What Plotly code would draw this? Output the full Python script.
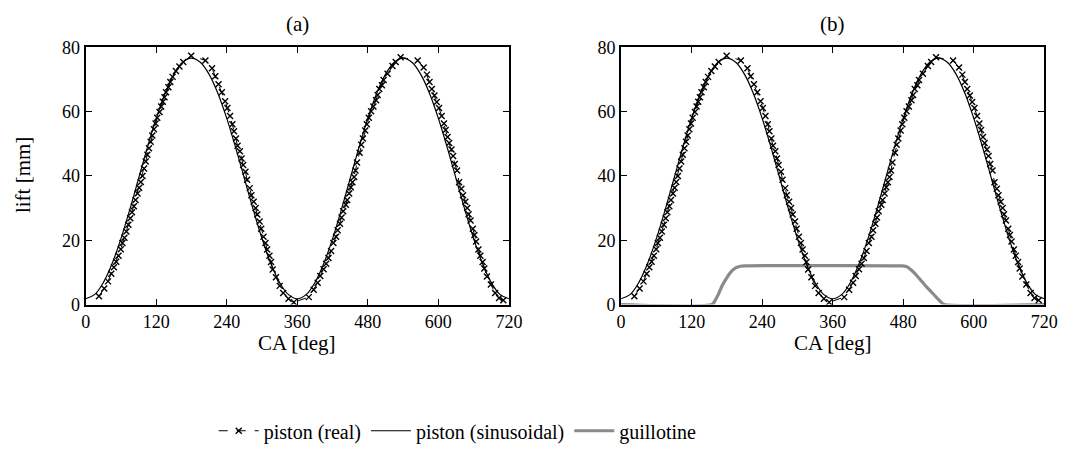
import plotly.graph_objects as go

# ---------------- data ----------------
# piston (sinusoidal): crank angle [deg] and lift [mm]
sin_ca = [0, 15, 30, 45, 60, 75, 90, 105, 120, 135, 150, 165, 180,
          195, 210, 225, 240, 255, 270, 285, 300, 315, 330, 345, 360,
          375, 390, 405, 420, 435, 450, 465, 480, 495, 510, 525, 540,
          555, 570, 585, 600, 615, 630, 645, 660, 675, 690, 705, 720]
sin_lift = [1.8, 3.07, 6.81, 12.75, 20.5, 29.52, 39.2, 48.88, 57.9, 65.65, 71.59, 75.33, 76.6,
            75.33, 71.59, 65.65, 57.9, 48.88, 39.2, 29.52, 20.5, 12.75, 6.81, 3.07, 1.8,
            3.07, 6.81, 12.75, 20.5, 29.52, 39.2, 48.88, 57.9, 65.65, 71.59, 75.33, 76.6,
            75.33, 71.59, 65.65, 57.9, 48.88, 39.2, 29.52, 20.5, 12.75, 6.81, 3.07, 1.8]

# piston (real): measured points
real_ca = [22.5, 31.5, 38.0, 43.5, 48.0, 51.9, 55.8, 59.7, 62.5, 65.9, 69.2, 72.6, 75.9, 78.7,
           82.0, 84.8, 88.2, 91.0, 93.8, 96.6, 99.3, 102.1, 104.9, 107.7, 110.5, 113.3, 116.1,
           118.9, 121.7, 125.6, 128.4, 131.2, 134.0, 136.7, 140.7, 144.0, 147.9, 153.5, 159.5,
           166.0, 179.5,
           203.7, 214.9, 220.5, 226.0, 231.6, 237.2, 241.1, 245.6, 249.5, 252.3, 255.6, 258.4,
           262.3, 265.1, 267.9, 271.8, 274.6, 279.1, 281.9, 285.8, 289.1, 291.9, 295.8, 298.6,
           302.5, 305.9, 308.7, 312.6, 315.3, 318.1, 323.7, 330.0, 336.0, 345.0, 354.0,
           379.5, 387.9, 394.6, 399.1, 404.7, 409.1, 413.0, 417.5, 421.4, 425.9, 428.7, 432.6,
           435.3, 438.1, 442.6, 444.8, 448.2, 451.0, 453.8, 456.6, 459.0, 461.6, 466.0, 468.8,
           471.6, 475.5, 478.3, 481.7, 485.6, 489.5, 494.0, 496.7, 499.5, 504.0, 506.8, 513.5,
           521.9, 527.4, 535.8,
           564.8, 574.9, 580.5, 584.9, 588.8, 593.3, 597.2, 601.1, 605.6, 609.5, 612.3, 615.6,
           618.4, 622.3, 625.1, 627.9, 631.8, 635.2, 639.1, 641.9, 645.8, 649.1, 651.4, 654.7,
           658.6, 661.4, 664.2, 668.1, 671.4, 675.3, 678.1, 682.6, 689.3, 696.6, 703.3, 710.5]
real_lift = [2.6, 5.0, 7.2, 9.6, 11.6, 13.3, 15.2, 17.2, 19.1, 20.8, 22.7, 24.8, 26.8, 28.7,
             30.6, 32.5, 34.5, 36.3, 38.1, 40.0, 42.3, 44.5, 46.6, 48.6, 50.6, 52.6, 54.5,
             56.3, 58.1, 59.9, 61.6, 63.1, 64.5, 66.0, 67.6, 69.2, 70.8, 72.6, 74.0,
             75.4, 77.4,
             75.9, 73.5, 71.0, 68.5, 66.0, 63.2, 61.1, 58.6, 56.1, 53.9, 51.6, 49.4,
             47.7, 45.4, 43.4, 41.3, 38.8, 36.2, 34.0, 32.0, 30.0, 28.0, 25.8, 23.6,
             21.1, 19.1, 17.1, 15.2, 13.2, 10.9, 8.5, 5.8, 3.6, 1.8, 0.7,
             2.3, 4.6, 6.75, 8.9, 11.0, 12.7, 14.5, 16.65, 19.1, 21.1, 23.1, 25.1,
             27.1, 29.0, 31.0, 32.5, 34.5, 36.5, 38.0, 39.65, 41.7, 44.2, 47.2, 49.7,
             51.6, 54.1, 56.1, 58.1, 60.1, 61.6, 63.5, 65.2, 67.0, 68.2, 69.8, 71.8,
             74.2, 75.4, 76.9,
             75.9, 73.75, 71.5, 69.2, 67.0, 65.0, 63.0, 61.1, 58.6, 56.3, 54.3, 52.1,
             50.2, 48.2, 46.2, 43.7, 41.7, 38.0, 36.0, 34.0, 32.0, 30.0, 28.05, 26.1,
             23.6, 21.6, 19.6, 17.1, 15.2, 13.2, 11.2, 8.7, 6.2, 3.6, 2.0, 1.3]

# guillotine lift
guil_ca = [0, 155, 160, 165, 172, 180, 188, 195, 203, 210, 478, 485, 492, 500, 510,
           520, 530, 538, 544, 550, 720]
guil_lift = [0, 0, 1.3, 3.0, 5.9, 8.4, 10.4, 11.4, 11.9, 12.0, 12.0, 11.8, 11.0, 9.6, 7.5,
             5.4, 3.5, 1.9, 0.8, 0, 0]

x_ticks = [0, 120, 240, 360, 480, 600, 720]
y_ticks = [0, 20, 40, 60, 80]
panel_titles = ["(a)", "(b)"]

FONT = "Times New Roman, Tinos, Liberation Serif, serif"
W, H = 1078, 457

fig = go.Figure()

real_style = dict(mode="lines+markers", name="piston (real)",
                  line=dict(color="black", width=1, dash="dash"),
                  marker=dict(symbol="x-thin", size=6, color="black",
                              line=dict(width=1.4, color="black")))
sin_style = dict(mode="lines", name="piston (sinusoidal)",
                 line=dict(color="black", width=1.2, shape="spline", smoothing=1.0))
guil_style = dict(mode="lines", name="guillotine",
                  line=dict(color="#8a8a8a", width=3.2, shape="spline", smoothing=0.6))

# panel (a)
fig.add_trace(go.Scatter(x=sin_ca, y=sin_lift, xaxis="x", yaxis="y", legendrank=2,
                         showlegend=True, **sin_style))
fig.add_trace(go.Scatter(x=real_ca, y=real_lift, xaxis="x", yaxis="y", legendrank=1,
                         showlegend=True, **real_style))
# panel (b)
fig.add_trace(go.Scatter(x=guil_ca, y=guil_lift, xaxis="x2", yaxis="y2", legendrank=3,
                         showlegend=True, **guil_style))
fig.add_trace(go.Scatter(x=sin_ca, y=sin_lift, xaxis="x2", yaxis="y2",
                         showlegend=False, **sin_style))
fig.add_trace(go.Scatter(x=real_ca, y=real_lift, xaxis="x2", yaxis="y2",
                         showlegend=False, **real_style))

ydom = [1 - 308 / H, 1 - 39 / H]
xdom_a = [83 / W, 513 / W]
xdom_b = [627 / W, 1057 / W]

axis_common = dict(showline=True, linewidth=2, linecolor="black", mirror="ticks",
                   ticks="inside", ticklen=6, tickwidth=1.2, tickcolor="black",
                   showgrid=False, zeroline=False,
                   tickfont=dict(family=FONT, size=18, color="black"))

fig.update_layout(
    width=W, height=H,
    margin=dict(l=0, r=0, t=0, b=0),
    paper_bgcolor="white", plot_bgcolor="white",
    font=dict(family=FONT, size=18, color="black"),
    xaxis=dict(domain=xdom_a, range=[0, 720], tickvals=x_ticks, anchor="y", **axis_common),
    yaxis=dict(domain=ydom, range=[0, 80], tickvals=y_ticks, anchor="x", **axis_common),
    xaxis2=dict(domain=xdom_b, range=[0, 720], tickvals=x_ticks, anchor="y2", **axis_common),
    yaxis2=dict(domain=ydom, range=[0, 80], tickvals=y_ticks, anchor="x2", **axis_common),
    legend=dict(orientation="h", x=461 / W, xanchor="center", y=1 - 440 / H, yanchor="middle",
                font=dict(family=FONT, size=20, color="black"),
                bgcolor="rgba(0,0,0,0)", itemwidth=40, tracegroupgap=0),
    showlegend=True,
)

ann_font = dict(family=FONT, size=21, color="black")
fig.add_annotation(text=panel_titles[0], x=(xdom_a[0] + xdom_a[1]) / 2, y=1 - 15 / H,
                   xref="paper", yref="paper", showarrow=False, font=ann_font,
                   xanchor="center", yanchor="middle")
fig.add_annotation(text=panel_titles[1], x=(xdom_b[0] + xdom_b[1]) / 2, y=1 - 15 / H,
                   xref="paper", yref="paper", showarrow=False, font=ann_font,
                   xanchor="center", yanchor="middle")
for dom in (xdom_a, xdom_b):
    fig.add_annotation(text="CA [deg]", x=(dom[0] + dom[1]) / 2, y=1 - 334 / H,
                       xref="paper", yref="paper", showarrow=False, font=ann_font,
                       xanchor="center", yanchor="top")
fig.add_annotation(text="lift [mm]", x=20 / W, y=1 - 173 / H, textangle=-90,
                   xref="paper", yref="paper", showarrow=False, font=ann_font,
                   xanchor="center", yanchor="middle")

fig.write_html("out.html")
